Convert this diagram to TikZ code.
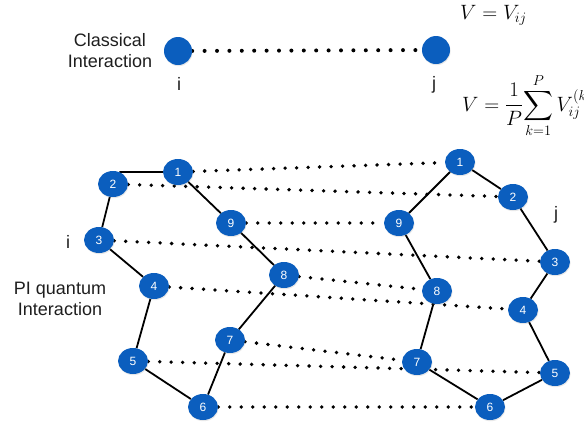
\documentclass[tikz,border=0pt]{standalone}
\usepackage{amsmath}
\usepackage{exscale}
\usepackage{fontspec}
\setsansfont{Liberation Sans}
\usetikzlibrary{shapes.geometric,shadows,backgrounds}
\definecolor{beadblue}{RGB}{11,94,190}
\definecolor{inktext}{RGB}{30,30,30}
\begin{document}
\begin{tikzpicture}[x=1pt,y=-1pt,
  softshadow/.style={drop shadow={opacity=0.18,shadow xshift=0.6pt,shadow yshift=-1.2pt}},
  atom/.style={circle,fill=beadblue,minimum size=28pt,inner sep=0pt,softshadow},
  bead/.style={ellipse,fill=beadblue,minimum width=30pt,minimum height=26pt,inner sep=0pt,
    text=white,font=\sffamily\fontsize{12}{12}\selectfont,softshadow},
  spring/.style={line width=1.8pt,black},
  dotline/.style={line width=3.8pt,line cap=round,dash pattern=on 0pt off 11.5pt},
  topdots/.style={line width=4pt,line cap=round,dash pattern=on 0pt off 12.4pt},
  lbl/.style={font=\sffamily\fontsize{18}{21}\selectfont,align=center,text=inktext},
  mathlbl/.style={font=\fontsize{20}{24}\selectfont,inner sep=0pt}
]
\useasboundingbox (0,0) rectangle (584,424);

% classical pair
\node[atom] (ci) at (178,51) {};
\node[atom] (cj) at (436,50) {};
\node[lbl] (ctext) at (110,51) {Classical\\Interaction};
\node[lbl,anchor=base] (cilab) at (179,90) {i};
\node[lbl,anchor=base] (cjlab) at (434,89) {j};
\node[mathlbl,anchor=base west] (fcl) at (460,19) {$V = V_{ij}$};
\node[mathlbl,anchor=base west] (fpi) at (462,111)
  {$\displaystyle V \mathrel{=} \frac{1}{P}\!\sum_{k=1}^{P} V_{ij}^{(k)}$};

% ring polymer of particle i
\node[bead] (a1) at (178,172) {1};
\node[bead] (a2) at (113,184) {2};
\node[bead] (a3) at (99,240) {3};
\node[bead] (a4) at (154,286) {4};
\node[bead] (a5) at (133,361) {5};
\node[bead] (a6) at (203,407) {6};
\node[bead] (a7) at (230,340) {7};
\node[bead] (a8) at (284,275) {8};
\node[bead] (a9) at (231,223) {9};

% ring polymer of particle j
\node[bead] (b1) at (460,162) {1};
\node[bead] (b2) at (513,197) {2};
\node[bead] (b3) at (555,262) {3};
\node[bead] (b4) at (523,310) {4};
\node[bead] (b5) at (555,373) {5};
\node[bead] (b6) at (490,407) {6};
\node[bead] (b7) at (417,362) {7};
\node[bead] (b8) at (437,291) {8};
\node[bead] (b9) at (399,223) {9};

\node[lbl] (pitext) at (60,299) {PI quantum\\Interaction};
\node[lbl,anchor=base] (rilab) at (68,248) {i};
\node[lbl,anchor=base] (rjlab) at (556,219) {j};

\begin{scope}[on background layer]
  \draw[topdots] (ci) -- (cj);
  % harmonic springs along each ring
  \draw[spring] (a2.62) -- (a1.west);
  \foreach \u/\v in {a2/a3,a3/a4,a4/a5,a5/a6,a6/a7,a7/a8,a8/a9,a9/a1,
                     b1/b2,b2/b3,b3/b4,b4/b5,b5/b6,b6/b7,b7/b8,b8/b9,b9/b1}
    \draw[spring] (\u) -- (\v);
  % bead k of i interacts with bead k of j
  \foreach \k in {1,...,9}
    \draw[dotline] (a\k) -- (b\k);
\end{scope}
\end{tikzpicture}
\end{document}
